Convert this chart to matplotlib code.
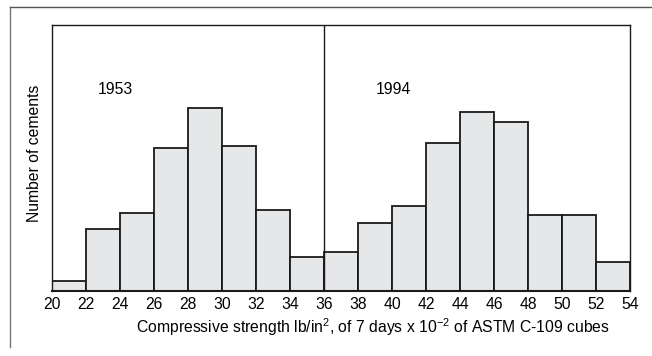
import matplotlib
matplotlib.use("Agg")
import matplotlib.pyplot as plt
from matplotlib.lines import Line2D

plt.rcParams['font.family'] = ['Liberation Sans', 'DejaVu Sans']
plt.rcParams['mathtext.fontset'] = 'custom'
plt.rcParams['mathtext.rm'] = 'Liberation Sans'
plt.rcParams['mathtext.default'] = 'regular'

bin_edges = [20, 22, 24, 26, 28, 30, 32, 34, 36, 38, 40, 42, 44, 46, 48, 50, 52, 54]
counts = [1.0, 6.2, 7.8, 14.3, 18.3, 14.5, 8.1, 3.4,
          3.9, 6.8, 8.5, 14.8, 17.9, 16.9, 7.6, 7.6, 2.9]
divider = 36
panel_labels = ["1953", "1994"]
panel_label_x = [23.7, 40.06]
xlabel = r"Compressive strength lb/in$^{2}$, of 7 days x 10$^{-2}$ of ASTM C-109 cubes"
ylabel = "Number of cements"

FS = 11.3

fig = plt.figure(figsize=(6.52, 3.56), dpi=100)
ax = fig.add_axes([52/652, 1-291/356, 578/652, 266/356])

lefts = bin_edges[:-1]
widths = [b - a for a, b in zip(bin_edges[:-1], bin_edges[1:])]
ax.bar(lefts, counts, width=widths, align='edge', color='#e6e7e8',
       edgecolor='#1a1a1a', linewidth=1.3)
ax.axvline(divider, color='#1a1a1a', linewidth=1.0)

ax.set_xlim(20, 54)
ax.set_ylim(0, 26.6)
ax.set_xticks(bin_edges)
ax.set_xticklabels([str(v) for v in bin_edges], fontsize=FS)
ax.tick_params(axis='x', length=0, pad=4)
ax.set_yticks([])
for s in ax.spines.values():
    s.set_linewidth(1.0)
    s.set_color('#1a1a1a')
ax.spines['bottom'].set_linewidth(1.5)

for lab, xv in zip(panel_labels, panel_label_x):
    ax.text(xv, 26.6 - (89-25)/266*26.6, lab, fontsize=FS, ha='center', va='center')

fig.text(373/652, 1-327/356, xlabel, fontsize=FS, ha='center', va='center')
fig.text(35/652, 1-153/356, ylabel, fontsize=FS, rotation=90, ha='center', va='center')

# outer frame lines
fig.add_artist(Line2D([10/652, 10/652], [1-7/356, 1-347/356], color='#777777', linewidth=1.0, transform=fig.transFigure))
fig.add_artist(Line2D([10/652, 1.0], [1-7/356, 1-7/356], color='#555555', linewidth=1.0, transform=fig.transFigure))

fig.savefig("out.png", dpi=100)
